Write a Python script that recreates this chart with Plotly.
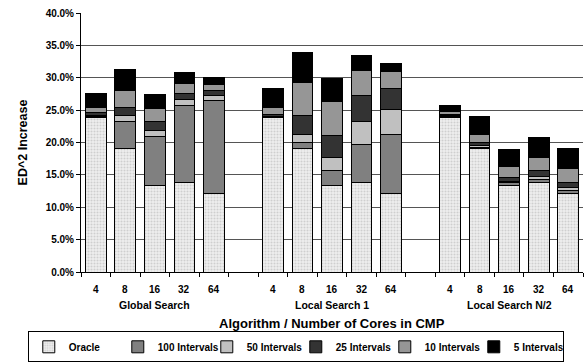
import plotly.graph_objects as go

groups = ["Global Search", "Local Search 1", "Local Search N/2"]
cores = ["4", "8", "16", "32", "64"]

series_names = ["Oracle", "100 Intervals", "50 Intervals", "25 Intervals", "10 Intervals", "5 Intervals"]
oracle = [23.9, 19.1, 13.4, 13.9, 12.1, 23.8, 19.1, 13.3, 13.85, 12.05, 23.8, 19.0, 13.3, 13.85, 12.1]
int100 = [0.1, 4.1, 7.5, 11.8, 14.4, 0.1, 0.9, 2.35, 5.85, 9.25, 0.15, 0.2, 0.5, 0.4, 0.5]
int50 = [0.1, 0.9, 1.0, 0.9, 0.8, 0.1, 1.3, 2.0, 3.6, 3.8, 0.15, 0.3, 0.25, 0.5, 0.4]
int25 = [0.55, 1.3, 1.35, 0.9, 0.7, 0.3, 2.8, 3.4, 4.0, 3.2, 0.25, 0.5, 0.5, 0.85, 0.9]
int10 = [0.75, 2.6, 1.95, 1.6, 1.0, 1.1, 5.1, 5.35, 3.8, 2.6, 0.4, 1.3, 1.75, 2.05, 2.05]
int5 = [2.1, 3.2, 2.2, 1.7, 1.0, 2.9, 4.7, 3.5, 2.4, 1.35, 0.95, 2.7, 2.6, 3.15, 3.05]

series_values = [oracle, int100, int50, int25, int10, int5]
colors = ["#eaeaea", "#808080", "#c0c0c0", "#333333", "#969696", "#000000"]

# slot positions: 5 bars per group, one empty slot between groups
xpos = [g * (len(cores) + 1) + i + 1 for g in range(len(groups)) for i in range(len(cores))]
nslots = len(groups) * (len(cores) + 1) - 1

FONT = "Liberation Sans, Arial, sans-serif"

fig = go.Figure()
for name, vals, col in zip(series_names, series_values, colors):
    marker = dict(color=col, line=dict(color="#000000", width=1))
    if name == "Oracle":
        marker["pattern"] = dict(shape=".", bgcolor="#eeeeee", fgcolor="#b0b0b0", size=3, solidity=0.35)
    fig.add_trace(go.Bar(x=xpos, y=vals, name=name, marker=marker))

annotations = []
for g, gname in enumerate(groups):
    for i, c in enumerate(cores):
        annotations.append(dict(x=g * (len(cores) + 1) + i + 1, y=-0.066, xref="x", yref="paper",
                                text=c, showarrow=False,
                                font=dict(size=10, family=FONT, color="#000", weight="bold"),
                                xanchor="center", yanchor="middle"))
    annotations.append(dict(x=g * (len(cores) + 1) + 3, y=-0.126, xref="x", yref="paper",
                            text=gname, showarrow=False,
                            font=dict(size=10.5, family=FONT, color="#000", weight="bold"),
                            xanchor="center", yanchor="middle"))
annotations.append(dict(x=0.5, y=-0.198, xref="paper", yref="paper",
                        text="Algorithm / Number of Cores in CMP", showarrow=False,
                        font=dict(size=13, family=FONT, color="#000", weight="bold"),
                        xanchor="center", yanchor="middle"))

fig.update_layout(
    barmode="stack",
    bargap=0.3,
    width=584, height=364,
    margin=dict(l=81, r=1, t=13, b=92),
    plot_bgcolor="#ffffff",
    paper_bgcolor="#ffffff",
    font=dict(family=FONT, color="#000000"),
    annotations=annotations,
    legend=dict(orientation="h", x=-0.106, y=-0.229, xanchor="left", yanchor="top",
                bordercolor="#000000", borderwidth=1,
                font=dict(size=10, family=FONT, color="#000", weight="bold"),
                itemwidth=30, traceorder="normal", tracegroupgap=0,
                entrywidth=44, entrywidthmode="pixels"),
    xaxis=dict(range=[0.5, nslots + 0.5], tickmode="array",
               tickvals=[k + 0.5 for k in range(nslots + 1)], ticktext=[""] * (nslots + 1),
               ticks="outside", ticklen=4, tickcolor="#000", showline=True, linecolor="#000",
               linewidth=1, showgrid=False, zeroline=False, fixedrange=True),
    yaxis=dict(range=[0, 40], dtick=5, tickformat=".1f", ticksuffix="%",
               ticks="outside", ticklen=4, tickcolor="#000", showline=True, linecolor="#000",
               linewidth=1, showgrid=True, gridcolor="#555555", gridwidth=1, zeroline=False,
               tickfont=dict(size=10, family=FONT, color="#000", weight="bold"),
               title=dict(text="ED^2 Increase", font=dict(size=12.5, family=FONT, color="#000", weight="bold"),
                          standoff=15)),
)

fig.write_html("out.html")
